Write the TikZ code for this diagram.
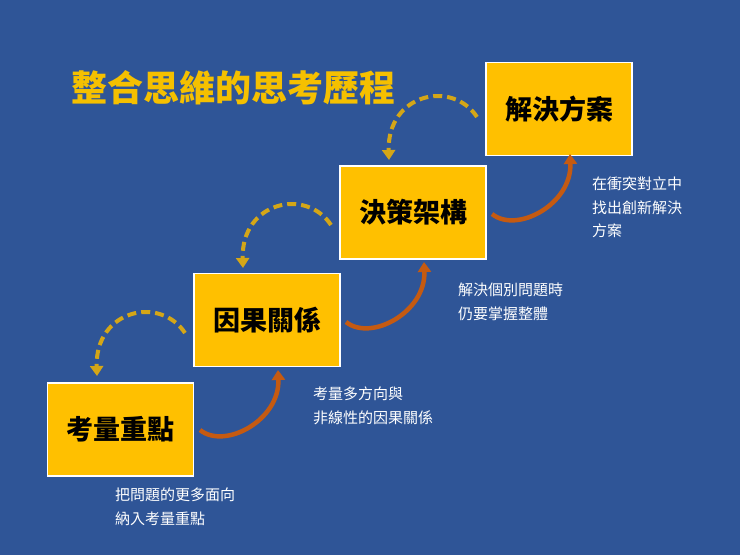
\documentclass[tikz,border=0pt]{standalone}
\usepackage{fontspec}
\setmainfont{Noto Sans CJK TC}
\usetikzlibrary{arrows.meta}
\definecolor{bg}{HTML}{2F5597}
\definecolor{boxy}{HTML}{FFC000}
\definecolor{titley}{HTML}{F5C000}
\definecolor{orarr}{HTML}{C55A11}
\definecolor{dasharr}{HTML}{D4A617}
\begin{document}
\begin{tikzpicture}[x=1pt,y=-1pt,
  stepbox/.style={draw=white,line width=1.5pt,fill=boxy,minimum width=146pt,minimum height=93pt,inner sep=0pt,font=\fontsize{27}{30}\selectfont\bfseries,text=black},
  note/.style={text=white,font=\fontsize{15}{23.5}\selectfont,align=left,anchor=north west,inner sep=0pt},
  uparr/.style={draw=orarr,line width=4.5pt,-{Triangle[length=10pt,width=13pt]}},
  backarr/.style={draw=dasharr,line width=4pt,dash pattern=on 9pt off 5pt,-{Triangle[length=10pt,width=13pt]}}]
\fill[bg] (0,0) rectangle (740,555);
\node[anchor=west,text=titley,font=\fontsize{36}{40}\selectfont\bfseries] (title) at (68,88) {整合思維的思考歷程};
\node[stepbox] (b1) at (120.5,429.5) {考量重點};
\node[stepbox] (b2) at (267,320) {因果關係};
\node[stepbox] (b3) at (413,212.5) {決策架構};
\node[stepbox] (b4) at (559,109) {解決方案};
\foreach \a/\dx/\dy in {b1/0/0,b2/146/108,b3/292/216}{
  \coordinate (s\a) at ([xshift=\dx,yshift=\dy]200,430);
  \coordinate (e\a) at ([xshift=\dx,yshift=\dy]278,370);
  \draw[uparr] (s\a) .. controls ([xshift=\dx,yshift=\dy]225,450) and ([xshift=\dx,yshift=\dy]280,420) .. (e\a);
  \coordinate (ds\a) at ([xshift=\dx,yshift=\dy]185,333);
  \coordinate (de\a) at ([xshift=\dx,yshift=\dy]97,376);
  \draw[backarr] (ds\a) .. controls ([xshift=\dx,yshift=\dy]160,295) and ([xshift=\dx,yshift=\dy]95,310) .. (de\a);
}
\node[note] (n1) at (115,488) {把問題的更多面向\\納入考量重點};
\node[note] (n2) at (313,387) {考量多方向與\\非線性的因果關係};
\node[note] (n3) at (458,283) {解決個別問題時\\仍要掌握整體};
\node[note] (n4) at (592,177) {在衝突對立中\\找出創新解決\\方案};
\end{tikzpicture}
\end{document}
